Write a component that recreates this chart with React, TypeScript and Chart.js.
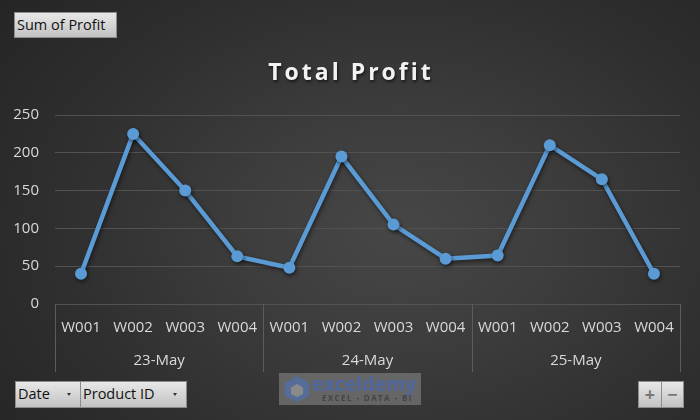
import React, { useEffect, useRef } from "react";
import { Chart, registerables } from "chart.js";

Chart.register(...registerables);

const dates = ["23-May", "24-May", "25-May"];
const products = ["W001", "W002", "W003", "W004"];
const profit = [40, 225, 150, 63, 48, 195, 105, 60, 64, 210, 165, 40];
const yTicks = [0, 50, 100, 150, 200, 250];
const titleText = "Total Profit";

const FONT = "'Open Sans', 'Liberation Sans', sans-serif";

const groupPlugin = {
  id: "groupAxis",
  afterDraw(chart: any) {
    const x = chart.scales.x;
    const area = chart.chartArea;
    const ctx = chart.ctx;
    const n = products.length;
    const total = dates.length * n;
    const half = (x.getPixelForValue(1) - x.getPixelForValue(0)) / 2;
    ctx.save();
    ctx.strokeStyle = "#5c5c5c";
    ctx.lineWidth = 1;
    for (let g = 0; g <= dates.length; g++) {
      const idx = g * n;
      const px =
        idx < total ? x.getPixelForValue(idx) - half : x.getPixelForValue(total - 1) + half;
      const xx = Math.round(px) + 0.5;
      ctx.beginPath();
      ctx.moveTo(xx, area.bottom);
      ctx.lineTo(xx, area.bottom + 68);
      ctx.stroke();
    }
    ctx.fillStyle = "#d9d9d9";
    ctx.font = `15px ${FONT}`;
    ctx.textAlign = "center";
    ctx.textBaseline = "middle";
    dates.forEach((d, g) => {
      const a = x.getPixelForValue(g * n) - half;
      const b = x.getPixelForValue(g * n + n - 1) + half;
      ctx.fillText(d, (a + b) / 2, area.bottom + 57);
    });
    // title
    ctx.font = `bold 23px ${FONT}`;
    (ctx as any).letterSpacing = "3px";
    ctx.fillStyle = "#f2f2f2";
    ctx.shadowColor = "rgba(0,0,0,0.6)";
    ctx.shadowBlur = 3;
    ctx.shadowOffsetX = 1;
    ctx.shadowOffsetY = 2;
    ctx.fillText(titleText, chart.width / 2 + 1, 73);
    ctx.restore();
  },
};

const shadowPlugin = {
  id: "lineShadow",
  beforeDatasetDraw(chart: any) {
    const ctx = chart.ctx;
    ctx.save();
    ctx.shadowColor = "rgba(0,0,0,0.55)";
    ctx.shadowBlur = 4;
    ctx.shadowOffsetX = 1;
    ctx.shadowOffsetY = 2;
  },
  afterDatasetDraw(chart: any) {
    chart.ctx.restore();
  },
};

const btn: React.CSSProperties = {
  position: "absolute",
  boxSizing: "border-box",
  background: "linear-gradient(#e8e8e8, #c2c2c2)",
  border: "1px solid #8c8c8c",
  color: "#111",
  fontFamily: FONT,
  fontSize: 14.5,
  lineHeight: "24px",
  paddingLeft: 2,
  whiteSpace: "nowrap",
};

const arrow: React.CSSProperties = {
  position: "absolute",
  top: 11,
  width: 0,
  height: 0,
  borderLeft: "2.5px solid transparent",
  borderRight: "2.5px solid transparent",
  borderTop: "3px solid #333",
};

export default function App() {
  const ref = useRef<HTMLCanvasElement | null>(null);

  useEffect(() => {
    if (!ref.current) return;
    const labels = dates.flatMap(() => products);
    const chart = new Chart(ref.current, {
      type: "line",
      data: {
        labels,
        datasets: [
          {
            label: "Sum of Profit",
            data: profit,
            borderColor: "#5b9bd5",
            backgroundColor: "#5b9bd5",
            borderWidth: 4.5,
            pointRadius: 6,
            pointBorderWidth: 0,
            pointBackgroundColor: "#5b9bd5",
            tension: 0,
            fill: false,
          },
        ],
      },
      options: {
        animation: false,
        responsive: false,
        devicePixelRatio: 1,
        layout: { padding: { top: 115, right: 20, left: 0, bottom: 0 } },
        plugins: {
          legend: { display: false },
          title: { display: false },
          tooltip: { enabled: false },
        },
        scales: {
          x: {
            type: "category",
            offset: true,
            grid: { display: false },
            border: { display: false },
            ticks: {
              autoSkip: false,
              maxRotation: 0,
              padding: 7,
              color: "#d9d9d9",
              font: { size: 15, family: FONT },
            },
            afterFit(scale: any) {
              scale.height = 116;
            },
          },
          y: {
            min: 0,
            max: 250,
            afterBuildTicks(scale: any) {
              scale.ticks = yTicks.map((v) => ({ value: v }));
            },
            grid: { color: "#525252", lineWidth: 1, drawTicks: false },
            border: { display: false },
            ticks: {
              padding: 16,
              color: "#d9d9d9",
              font: { size: 15, family: FONT },
            },
            afterFit(scale: any) {
              scale.width = 55;
            },
          },
        },
      },
      plugins: [shadowPlugin, groupPlugin],
    });
    return () => chart.destroy();
  }, []);

  return (
    <div
      style={{
        position: "fixed",
        left: 0,
        top: 0,
        width: 700,
        height: 420,
        overflow: "hidden",
        background:
          "radial-gradient(ellipse 75% 90% at 57% 55%, #474747 0%, #3d3d3d 30%, #2f2f2f 65%, #242424 100%)",
      }}
    >
      <canvas ref={ref} width={700} height={420} style={{ position: "absolute", left: 0, top: 0 }} />
      <div style={{ ...btn, left: 14, top: 12, width: 103, height: 26 }}>Sum of Profit</div>
      <div style={{ ...btn, left: 15, top: 381, width: 66, height: 27 }}>
        Date
        <span style={{ ...arrow, left: 51 }} />
      </div>
      <div style={{ ...btn, left: 80, top: 381, width: 107, height: 27 }}>
        Product ID
        <span style={{ ...arrow, left: 92 }} />
      </div>
      <div
        style={{
          ...btn,
          left: 638,
          top: 381,
          width: 46,
          height: 27,
          padding: 0,
          display: "flex",
          color: "#777",
          fontSize: 18,
          fontWeight: 700,
        }}
      >
        <span style={{ width: 22, textAlign: "center", borderRight: "1px solid #8c8c8c" }}>+</span>
        <span style={{ flex: 1, textAlign: "center" }}>−</span>
      </div>
      <div
        style={{
          position: "absolute",
          left: 279,
          top: 373,
          width: 142,
          height: 32,
          background: "rgba(140,140,140,0.55)",
          fontFamily: FONT,
        }}
      >
        <svg width="28" height="28" style={{ position: "absolute", left: 4, top: 2 }} viewBox="0 0 28 28">
          <polygon points="14,1 26,8 26,21 14,27 2,21 2,8" fill="#566d99" />
          <polygon points="14,9 20,12.5 20,19 14,22 8,19 8,12.5" fill="#8a8a8a" />
        </svg>
        <div
          style={{
            position: "absolute",
            left: 33,
            top: -3,
            fontSize: 19.5,
            fontWeight: 700,
            color: "#4f67a0",
          }}
        >
          exceldemy
        </div>
        <div
          style={{
            position: "absolute",
            left: 43,
            top: 19,
            fontSize: 8,
            fontWeight: 700,
            color: "#444",
            letterSpacing: 1.4,
          }}
        >
          EXCEL - DATA - BI
        </div>
      </div>
    </div>
  );
}
